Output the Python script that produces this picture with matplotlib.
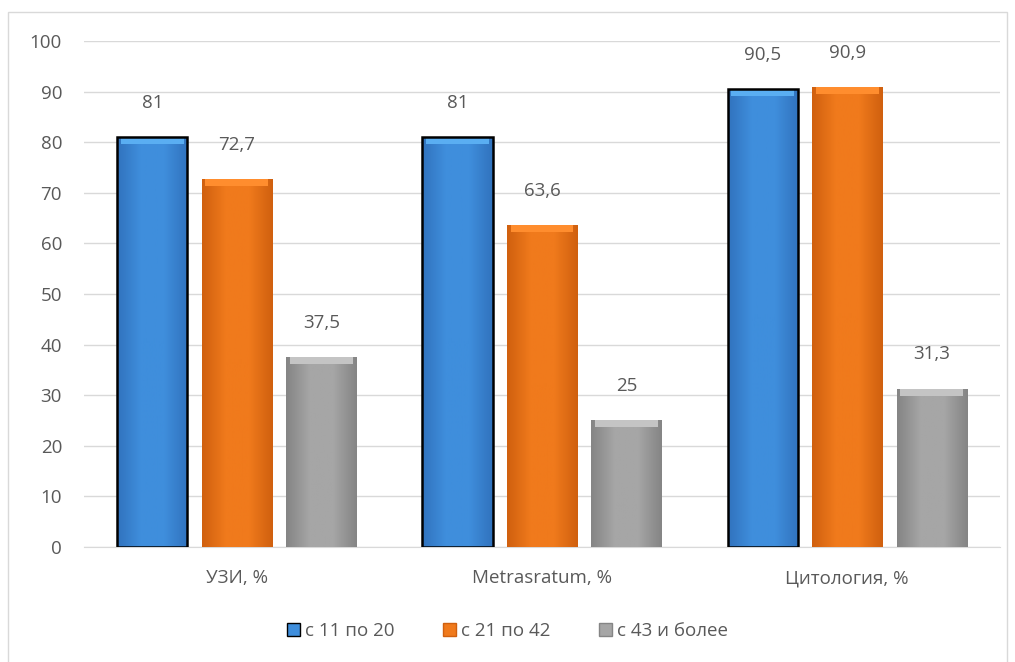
import matplotlib.pyplot as plt
import numpy as np
from matplotlib.patches import Rectangle
from matplotlib.colors import LinearSegmentedColormap

categories = ['УЗИ, %', 'Metrasratum, %', 'Цитология, %']
series_names = ['с 11 по 20', 'с 21 по 42', 'с 43 и более']
s_11_20 = [81, 81, 90.5]
s_21_42 = [72.7, 63.6, 90.9]
s_43 = [37.5, 25, 31.3]
series = [s_11_20, s_21_42, s_43]

# light -> dark shading for each series
shades = [('#5AAEF2', '#3F8EDC', '#3173BE'),
          ('#FF8D2E', '#F07A1C', '#D0600F'),
          ('#C4C4C4', '#A6A6A6', '#858585')]
edges = ['black', 'none', 'none']

plt.rcParams['font.family'] = ['Open Sans', 'DejaVu Sans']
text_color = '#595959'
fs = 13.5

fig = plt.figure(figsize=(10.15, 6.62), dpi=100)
ax = fig.add_axes([0.083, 0.174, 0.902, 0.764])

x = np.arange(len(categories))
width = 0.23
offsets = [-0.277, 0, 0.277]

for vals, off, sh, ec, name in zip(series, offsets, shades, edges, series_names):
    cmap = LinearSegmentedColormap.from_list(name, [sh[2], sh[1], sh[1], sh[2]])
    bars = ax.bar(x + off, vals, width, color=sh[1], edgecolor='none',
                  zorder=3, label=name)
    for b, v in zip(bars, vals):
        x0 = b.get_x()
        grad = np.linspace(0, 1, 64).reshape(1, -1)
        im = ax.imshow(grad, cmap=cmap, aspect='auto', zorder=3.1,
                       extent=(x0, x0 + width, 0, v))
        im.set_clip_path(b)
        # bevel at the top of the bar
        ax.add_patch(Rectangle((x0 + 0.012, v - 1.4), width - 0.024, 1.4,
                               facecolor=sh[0], edgecolor='none', zorder=3.2))
        if ec != 'none':
            ax.add_patch(Rectangle((x0, 0), width, v, facecolor='none',
                                   edgecolor=ec, linewidth=1.8, zorder=3.3))
        ax.text(x0 + width / 2, v + 6.8, f'{v:g}'.replace('.', ','),
                ha='center', va='center', fontsize=fs, color=text_color)

ax.set_xlim(-0.5, 2.5)
ax.set_ylim(0, 100)
ax.set_yticks(range(0, 101, 10))
ax.set_xticks(x)
ax.set_xticklabels(categories)
ax.tick_params(axis='both', length=0, labelsize=fs, labelcolor=text_color)
ax.tick_params(axis='x', pad=16)
ax.tick_params(axis='y', pad=16)
ax.grid(axis='y', color='#D9D9D9', linewidth=1, zorder=0)
for s in ['left', 'right', 'top']:
    ax.spines[s].set_visible(False)
ax.spines['bottom'].set_color('#D9D9D9')

handles = [Rectangle((0, 0), 1, 1, facecolor=sh[1], edgecolor=ec if ec != 'none' else sh[2])
           for sh, ec in zip(shades, edges)]
fig.legend(handles, series_names, loc='center', bbox_to_anchor=(0.5, 0.047), ncol=3,
           frameon=False, fontsize=fs, labelcolor=text_color, handlelength=0.7,
           handleheight=0.7, handletextpad=0.25, columnspacing=2.6)

fig.patches.append(Rectangle((8 / 1015, -0.01), 999 / 1015, 1 - 12 / 662 + 0.01,
                             transform=fig.transFigure, facecolor='none',
                             edgecolor='#D9D9D9', linewidth=1))

fig.savefig('out.png', dpi=100)
